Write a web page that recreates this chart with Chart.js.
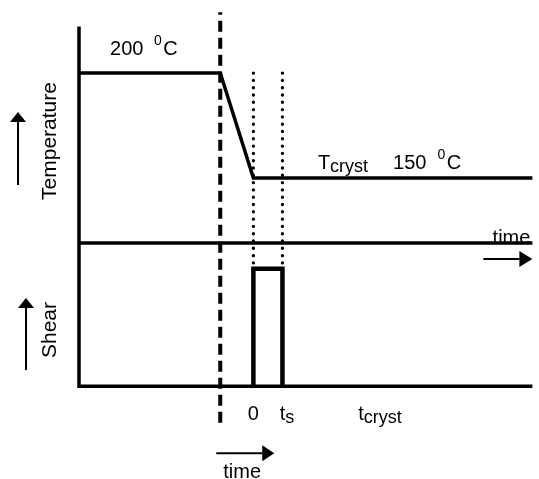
<!DOCTYPE html>
<html>
<head>
<meta charset="utf-8">
<script src="https://cdn.jsdelivr.net/npm/chart.js@4/dist/chart.umd.min.js"></script>
<style>
  html, body { margin: 0; padding: 0; background: #fff; }
  canvas { display: block; }
</style>
</head>
<body>
<canvas id="myChart" width="539" height="479"></canvas>
<script>
// time axis in arbitrary units, 0 = start of shear, 1 = t_s
const timeRange = [-6, 9.6];
const coolStart = -1.14;
const tempTime = [-6, coolStart, 0, 9.6];
const tempValues = [200, 200, 150, 150];
const shearTime = [0, 0, 1, 1];
const shearValues = [0, 1, 1, 0];
const dottedTimes = [0, 1];
const dottedTemp = [200, 108.5];
const tickTimes = [0, 1, 3.7];
const tickMain = ['0', 't', 't'];
const tickSub = ['', 's', 'cryst'];
// frame lines, in shear units
const frameTop = 3.06;
const frameSplit = 1.22;
const frameBase = 0;
const dashRange = [-0.31, 3.18];

const FONT = '"Liberation Sans", Arial, sans-serif';
const ctx = document.getElementById('myChart');

function pts(xs, ys) {
  return xs.map((x, i) => ({ x: x, y: ys[i] }));
}

function drawParts(c, x, y, parts) {
  for (const p of parts) {
    if (p.gap) { x += p.gap; continue; }
    c.font = p.size + 'px ' + FONT;
    c.fillText(p.text, x, y + (p.dy || 0));
    x += c.measureText(p.text).width;
  }
}

function arrow(c, x1, y1, x2, y2, headLen, headW) {
  const a = Math.atan2(y2 - y1, x2 - x1);
  const bx = x2 - Math.cos(a) * headLen;
  const by = y2 - Math.sin(a) * headLen;
  c.lineWidth = 2;
  c.beginPath();
  c.moveTo(x1, y1);
  c.lineTo(bx, by);
  c.stroke();
  const nx = -Math.sin(a) * headW / 2, ny = Math.cos(a) * headW / 2;
  c.beginPath();
  c.moveTo(x2, y2);
  c.lineTo(bx + nx, by + ny);
  c.lineTo(bx - nx, by - ny);
  c.closePath();
  c.fill();
}

// 글자와 화살표 그리기
const labelsPlugin = {
  id: 'labels',
  afterDatasetsDraw(chart) {
    const c = chart.ctx;
    const sx = chart.scales.x, sT = chart.scales.yT, sS = chart.scales.yS;
    const area = chart.chartArea;
    c.save();
    c.fillStyle = '#000';
    c.strokeStyle = '#000';
    c.textAlign = 'left';
    c.textBaseline = 'alphabetic';

    // 200 °C
    drawParts(c, sx.getPixelForValue(-4.93), sT.getPixelForValue(tempValues[0]) - 18, [
      { text: '200', size: 20 }, { gap: 10.5 },
      { text: '0', size: 14, dy: -10 }, { gap: 1.5 },
      { text: 'C', size: 20 }
    ]);
    // Tcryst 150 °C
    drawParts(c, sx.getPixelForValue(2.22), sT.getPixelForValue(tempValues[3]) - 9, [
      { text: 'T', size: 20 },
      { text: 'cryst', size: 18, dy: 3 }, { gap: 25 },
      { text: '150', size: 20 }, { gap: 11 },
      { text: '0', size: 14, dy: -10 }, { gap: 1.5 },
      { text: 'C', size: 20 }
    ]);

    // bottom time labels
    const yTick = sS.getPixelForValue(frameBase) + 34;
    tickTimes.forEach((t, i) => {
      c.font = '20px ' + FONT;
      const w = c.measureText(tickMain[i]).width;
      drawParts(c, sx.getPixelForValue(t) - w / 2, yTick, [
        { text: tickMain[i], size: 20 },
        { text: tickSub[i], size: 18, dy: 3 }
      ]);
    });

    // right "time" arrow
    const ySplit = sS.getPixelForValue(frameSplit);
    c.font = '20px ' + FONT;
    c.textAlign = 'right';
    c.fillText('time', area.right - 2, ySplit + 1);
    arrow(c, area.right - 49, ySplit + 16, area.right, ySplit + 16, 13, 16);

    // bottom "time" arrow
    const xCool = sx.getPixelForValue(coolStart);
    const yBase = sS.getPixelForValue(frameBase);
    arrow(c, xCool - 4, yBase + 67, xCool + 54, yBase + 67, 12, 16);
    c.textAlign = 'left';
    c.fillText('time', xCool + 3, yBase + 92);

    // left axis titles with up arrows
    arrow(c, 18, 185, 18, 112, 10, 16);
    arrow(c, 26, 370, 26, 298, 10, 16);
    c.textAlign = 'center';
    c.textBaseline = 'middle';
    c.font = '21px ' + FONT;
    c.translate(50, 141);
    c.rotate(-Math.PI / 2);
    c.fillText('Temperature', 0, 0);
    c.rotate(Math.PI / 2);
    c.translate(0, 189);
    c.rotate(-Math.PI / 2);
    c.fillText('Shear', 0, 0);
    c.restore();
  }
};

const line = (data, yAxisID, width, extra) => Object.assign({
  data: data,
  yAxisID: yAxisID,
  showLine: true,
  borderColor: '#000',
  borderWidth: width,
  pointRadius: 0,
  fill: false,
  clip: false,
  tension: 0
}, extra || {});

const dotted = { borderDash: [0.1, 7.2], borderCapStyle: 'round' };

const chart = new Chart(ctx, {
  type: 'scatter',
  data: {
    datasets: [
      line(pts(tempTime, tempValues), 'yT', 3.5),
      line(pts(shearTime, shearValues), 'yS', 4.5),
      line(pts([timeRange[0], timeRange[0], timeRange[1]], [frameTop, frameBase, frameBase]), 'yS', 3.5),
      line(pts(timeRange, [frameSplit, frameSplit]), 'yS', 3.5),
      line(pts([coolStart, coolStart], dashRange), 'yS', 4, { borderDash: [11, 6] }),
      line(pts([dottedTimes[0], dottedTimes[0]], dottedTemp), 'yT', 3.3, dotted),
      line(pts([dottedTimes[1], dottedTimes[1]], dottedTemp), 'yT', 3.3, dotted)
    ]
  },
  options: {
    responsive: false,
    animation: false,
    layout: { padding: { left: 79, right: 6.6, top: 10, bottom: 55 } },
    plugins: { legend: { display: false }, tooltip: { enabled: false } },
    scales: {
      x: { type: 'linear', min: timeRange[0], max: timeRange[1], display: false },
      yT: { type: 'linear', position: 'left', min: 33, max: 230, display: false },
      yS: { type: 'linear', position: 'right', min: -0.32, max: 3.2, display: false }
    }
  },
  plugins: [labelsPlugin]
});
</script>
</body>
</html>
